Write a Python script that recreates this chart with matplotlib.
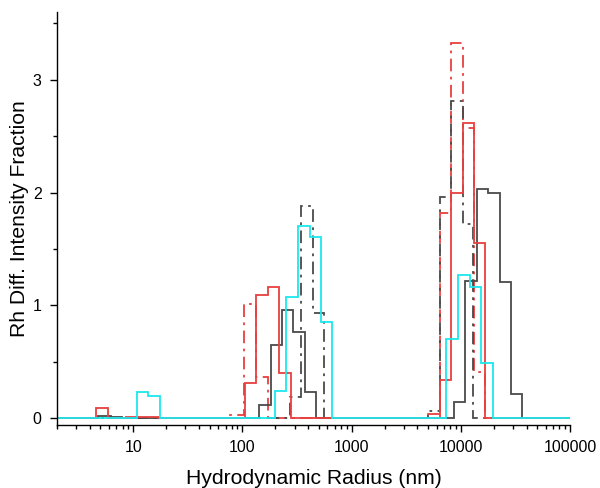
import numpy as np
import matplotlib
matplotlib.use('Agg')
import matplotlib.pyplot as plt
from matplotlib.ticker import MultipleLocator, FixedLocator, LogLocator, NullFormatter

plt.rcParams['font.family'] = ['Liberation Sans', 'DejaVu Sans']

#
# Data: bin edges (nm) and step heights, one list per peak
#
x_lo, x_hi = 2, 100000

red_edges = [[4.6, 5.9], [8.6, 17.3], [106, 134, 172, 218, 280],
             [6510, 8210, 10370, 13250, 16780]]
red_vals = [[0.09], [0.01], [0.31, 1.09, 1.16, 0.40],
            [0.34, 2.00, 2.62, 1.55]]

red_dd_edges = [[76, 104, 133, 171], [4980, 6413, 8090, 10370, 13250, 16780]]
red_dd_vals = [[0.03, 1.01, 0.36], [0.04, 1.82, 3.33, 2.57, 0.41]]

gray_edges = [[4.77, 6.24, 7.81], [141, 181, 231, 289, 370, 474],
              [8670, 10880, 13940, 17800, 22800, 28580, 36510]]
gray_vals = [[0.02, 0.01], [0.115, 0.65, 0.96, 0.76, 0.23],
             [0.14, 1.22, 2.03, 2.00, 1.21, 0.21]]

gray_dd_edges = [[274, 346, 441, 557], [4980, 6413, 8090, 10370, 12970]]
gray_dd_vals = [[0.19, 1.88, 0.93], [0.06, 1.96, 2.81, 1.72]]

cyan_edges = [[10.8, 13.7, 17.7], [197, 252, 321, 412, 519, 665],
              [7390, 9440, 12090, 15260, 19540]]
cyan_vals = [[0.23, 0.20], [0.24, 1.07, 1.70, 1.61, 0.85],
             [0.70, 1.27, 1.16, 0.49]]


def join_peaks(edges, vals):
    ''' Glue the peaks onto a zero baseline running over the whole axis. '''
    e = [x_lo]
    v = [0.0]
    for pe, pv in zip(edges, vals):
        e += pe
        v += pv + [0.0]
    e.append(x_hi)
    return np.array(v), np.array(e)


red = '#e8403f'
gray = '#4a4a4a'
cyan = '#1ae8ee'
dd = (0, (7, 3, 1.5, 3))

fig = plt.figure(figsize=(6, 4.88), dpi=100)
ax = fig.add_axes([0.095, 0.129, 0.855, 0.846])

for edges, vals, col, ls in [(red_dd_edges, red_dd_vals, red, dd),
                             (gray_dd_edges, gray_dd_vals, gray, dd),
                             (gray_edges, gray_vals, gray, '-'),
                             (red_edges, red_vals, red, '-'),
                             (cyan_edges, cyan_vals, cyan, '-')]:
    v, e = join_peaks(edges, vals)
    ax.stairs(v, e, baseline=None, color=col, linestyle=ls, linewidth=1.3)

ax.set_xscale('log')
ax.set_xlim(x_lo, x_hi)
ax.set_ylim(-0.062, 3.6)

ax.xaxis.set_major_locator(FixedLocator([10, 100, 1000, 10000, 100000]))
ax.xaxis.set_major_formatter(matplotlib.ticker.FuncFormatter(lambda x, p: '%d' % x))
ax.xaxis.set_minor_locator(LogLocator(base=10, subs=np.arange(2, 10)))
ax.xaxis.set_minor_formatter(NullFormatter())
ax.yaxis.set_major_locator(MultipleLocator(1))
ax.yaxis.set_minor_locator(MultipleLocator(0.5))

for s in ['top', 'right']:
    ax.spines[s].set_visible(False)
for s in ['left', 'bottom']:
    ax.spines[s].set_linewidth(1.0)

ax.tick_params(which='major', direction='out', length=5, width=1.0,
               labelsize=11.5, pad=6)
ax.tick_params(which='minor', direction='out', length=3, width=1.0)

ax.set_xlabel('Hydrodynamic Radius (nm)', fontsize=15.2, labelpad=10)
ax.set_ylabel('Rh Diff. Intensity Fraction', fontsize=15.2, labelpad=3)

fig.savefig('out.png', dpi=100)
